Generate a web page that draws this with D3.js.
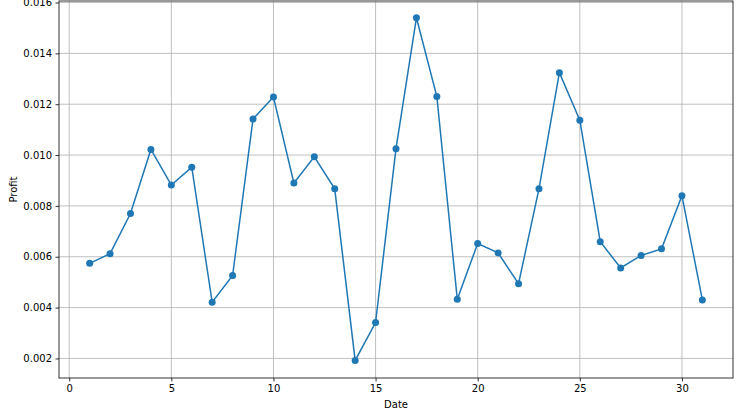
<!DOCTYPE html>
<html>
<head>
<meta charset="utf-8">
<script src="https://cdn.jsdelivr.net/npm/d3@7"></script>
<style>
  body { margin: 0; background: #fff; }
  text { font-family: "DejaVu Sans", sans-serif; }
</style>
</head>
<body>
<script>
// daily profit values
var dates = [1,2,3,4,5,6,7,8,9,10,11,12,13,14,15,16,17,18,19,20,21,22,23,24,25,26,27,28,29,30,31];
var profit = [0.00574, 0.00612, 0.00770, 0.01022, 0.00882, 0.00952, 0.00421, 0.00526, 0.01142, 0.01228,
              0.00890, 0.00993, 0.00867, 0.00192, 0.00341, 0.01025, 0.01540, 0.01230, 0.00433, 0.00652,
              0.00615, 0.00494, 0.00867, 0.01324, 0.01137, 0.00659, 0.00556, 0.00605, 0.00631, 0.00840, 0.00430];
var xTicks = [0, 5, 10, 15, 20, 25, 30];
var yTicks = [0.002, 0.004, 0.006, 0.008, 0.010, 0.012, 0.014, 0.016];

var W = 740, H = 418;
var plot = {left: 59, right: 733, top: 1, bottom: 378};

var svg = d3.select("body").append("svg")
  .attr("width", W)
  .attr("height", H);

// matplotlib style 5% margins
var x = d3.scaleLinear().domain([-0.5, 32.5]).range([plot.left, plot.right]);
var y = d3.scaleLinear().domain([0.00123, 0.01606]).range([plot.bottom, plot.top]);

// grid
svg.append("g").selectAll("line").data(xTicks).enter().append("line")
  .attr("x1", d => x(d)).attr("x2", d => x(d))
  .attr("y1", plot.top).attr("y2", plot.bottom)
  .attr("stroke", "#b0b0b0").attr("stroke-width", 0.8);
svg.append("g").selectAll("line").data(yTicks).enter().append("line")
  .attr("x1", plot.left).attr("x2", plot.right)
  .attr("y1", d => y(d)).attr("y2", d => y(d))
  .attr("stroke", "#b0b0b0").attr("stroke-width", 0.8);

// axes
var xAxis = svg.append("g")
  .attr("transform", "translate(0," + plot.bottom + ")")
  .call(d3.axisBottom(x).tickValues(xTicks).tickFormat(d3.format("d")).tickSize(3.5).tickPadding(3.5));
var yAxis = svg.append("g")
  .attr("transform", "translate(" + plot.left + ",0)")
  .call(d3.axisLeft(y).tickValues(yTicks).tickFormat(d3.format(".3f")).tickSize(3.5).tickPadding(3.5));
[xAxis, yAxis].forEach(function(a) {
  a.select(".domain").remove();
  a.selectAll("line").attr("stroke", "#000").attr("stroke-width", 0.8);
  a.selectAll("text").attr("fill", "#000").style("font-size", "10px").style("font-family", "DejaVu Sans, sans-serif");
});

// frame
svg.append("rect")
  .attr("x", plot.left).attr("y", plot.top)
  .attr("width", plot.right - plot.left).attr("height", plot.bottom - plot.top)
  .attr("fill", "none").attr("stroke", "#000").attr("stroke-width", 0.8);

// line + markers
var line = d3.line()
  .x((d, i) => x(dates[i]))
  .y(d => y(d));
svg.append("path")
  .datum(profit)
  .attr("d", line)
  .attr("fill", "none")
  .attr("stroke", "#1f77b4")
  .attr("stroke-width", 1.5);
svg.append("g").selectAll("circle").data(profit).enter().append("circle")
  .attr("cx", (d, i) => x(dates[i]))
  .attr("cy", d => y(d))
  .attr("r", 3.5)
  .attr("fill", "#1f77b4");

// labels
svg.append("text")
  .attr("x", (plot.left + plot.right) / 2).attr("y", 408)
  .attr("text-anchor", "middle")
  .style("font-size", "10px")
  .text("Date");
svg.append("text")
  .attr("transform", "translate(17," + ((plot.top + plot.bottom) / 2) + ") rotate(-90)")
  .attr("text-anchor", "middle")
  .style("font-size", "10px")
  .text("Profit");
</script>
</body>
</html>
